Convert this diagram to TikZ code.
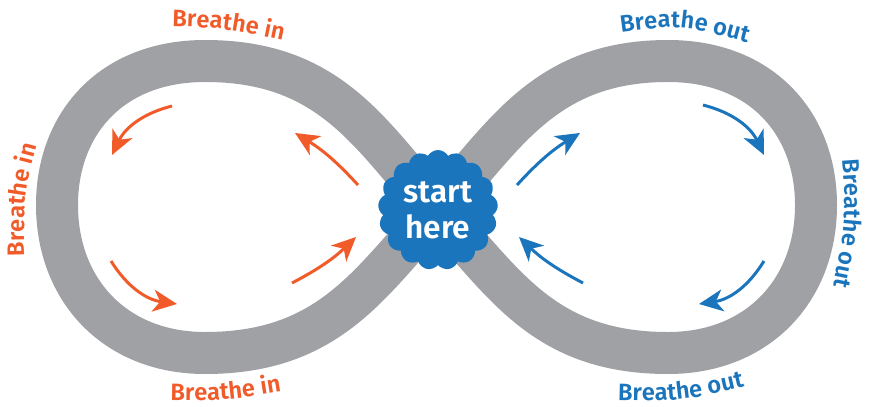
\documentclass[tikz,border=0pt]{standalone}
\usepackage{fontspec}
\setsansfont{Fira Sans}[BoldFont={Fira Sans SemiBold}]
\usepackage{tikz}
\usetikzlibrary{arrows.meta,shapes.symbols,decorations.text}
\definecolor{bandgray}{RGB}{160,161,165}
\definecolor{inorange}{RGB}{241,90,41}
\definecolor{outblue}{RGB}{27,117,188}
\newcommand{\breathfont}{\fontsize{13.5}{16}\selectfont\sffamily\bfseries}

\begin{document}
\begin{tikzpicture}[x=0.02cm,y=0.02cm,
                band/.style={draw=bandgray,line width=0.84cm},
                inarrow/.style={draw=inorange,line width=1.7pt,-{Stealth[length=0.48cm,width=0.44cm,inset=0.14cm]}},
                outarrow/.style={draw=outblue,line width=1.7pt,-{Stealth[length=0.48cm,width=0.44cm,inset=0.14cm]}},
                inlabel/.style={decorate,decoration={text along path,text align=center,text={|\breathfont\color{inorange}|Breathe in}}},
                outlabel/.style={decorate,decoration={text along path,text align=center,text={|\breathfont\color{outblue}|Breathe out}}}]
                \useasboundingbox (0,0) rectangle (874,406);
                \draw[band] (437,196) .. controls (370,272) and (330,345) .. (205,345)
                    .. controls (110,345) and (57,281) .. (57,201)
                    .. controls (57,116) and (115,53) .. (205,53)
                    .. controls (330,53) and (370,124) .. (437,196)
                    .. controls (504,268) and (543,345) .. (668,345)
                    .. controls (763,345) and (816,281) .. (816,201)
                    .. controls (816,116) and (758,53) .. (668,53)
                    .. controls (543,53) and (504,124) .. (437,196) -- cycle;
                \node[cloud,cloud puffs=17,cloud puff arc=120,aspect=1,fill=outblue,
                    minimum width=2.4cm,minimum height=2.4cm,inner sep=0pt,
                    text=white,align=center,font=\fontsize{18}{20.5}\selectfont\sffamily\bfseries] (start) at (438,196) {start\\here};
                \draw[inarrow] (358,221) to[bend right=8] (295,273);
                \draw[inarrow] (172,300) to[bend right=25] (112,251);
                \draw[inarrow] (111,145) to[bend right=25] (177,102);
                \draw[inarrow] (292,123) to[bend right=8] (356,169);
                \draw[outarrow] (517,221) to[bend left=8] (580,273);
                \draw[outarrow] (703,301) to[bend left=25] (764,251);
                \draw[outarrow] (764,145) to[bend left=25] (699,102);
                \draw[outarrow] (583,123) to[bend left=8] (519,169);
                \path[inlabel] (160,380) .. controls (225,378) .. (295,363);
                \path[inlabel] (25,132) .. controls (23,210) .. (42,278);
                \path[inlabel] (160,6) .. controls (225,5) .. (292,16);
                \path[outlabel] (608,372) .. controls (680,382) .. (760,360);
                \path[outlabel] (842,258) .. controls (847,185) .. (831,108);
                \path[outlabel] (605,6) .. controls (680,4) .. (757,22);
\end{tikzpicture}
\end{document}
